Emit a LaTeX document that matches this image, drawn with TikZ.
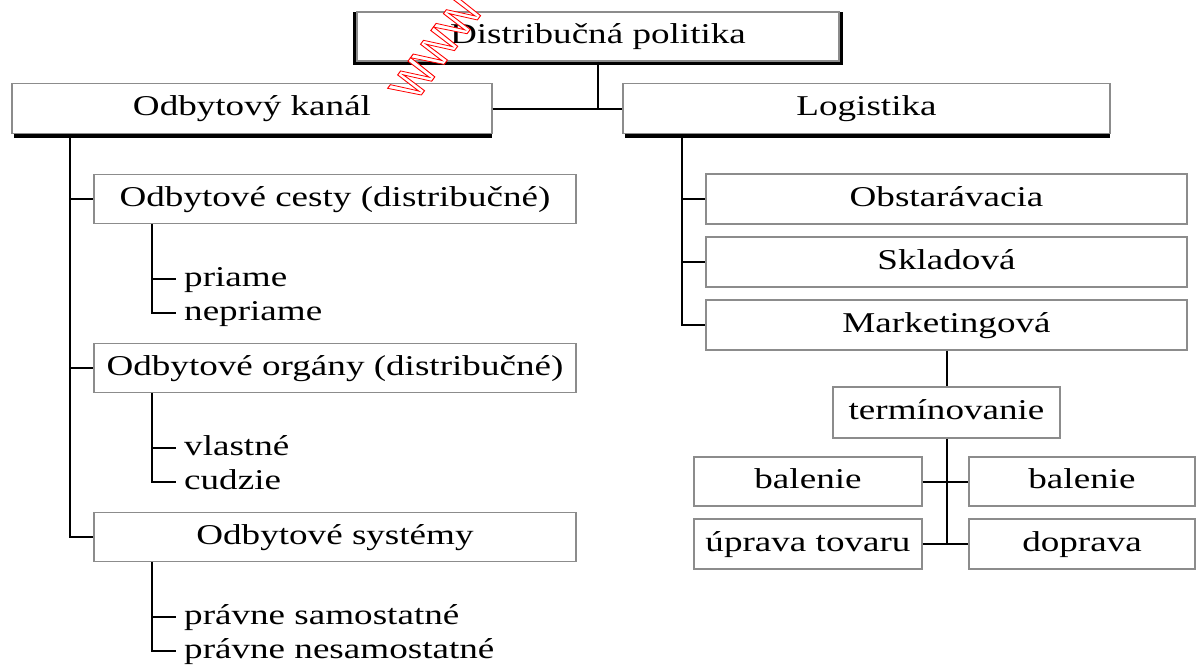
\documentclass[tikz,border=0pt]{standalone}
\usepackage{fontspec}
\setmainfont[FakeStretch=1.293]{Liberation Serif}
\newfontfamily\wmfont{Liberation Sans}
\definecolor{boxgray}{gray}{0.55}
\tikzset{
  box/.style={draw=boxgray, line width=1.4pt, fill=white, inner sep=0pt,
    font=\fontsize{28.7}{34}\selectfont, text height=19.5pt, text depth=5pt, align=center},
  item/.style={anchor=west, inner xsep=8pt, inner ysep=0pt,
    font=\fontsize{28.7}{34}\selectfont, text height=20pt, text depth=4pt},
  conn/.style={line width=2pt, black},
  shadowline/.style={line width=3.5pt, black},
  watermark/.style={rotate=60, transform shape, inner sep=0pt, text=red, text height=25pt, text depth=0pt,
    font=\wmfont\fontsize{49}{49}\selectfont},
}
\begin{document}
\begin{tikzpicture}[x=1pt,y=-1pt]
\useasboundingbox (0,0) rectangle (1196,664);
\fill[white] (0,0) rectangle (1196,664);

% top
\draw[shadowline] (355,12) -- (355,63) -- (841.5,63) -- (841.5,12);
\node[box, minimum width=482pt, minimum height=49pt] (top) at (598,36.5) {Distribučná politika};

% level 1
\draw[shadowline] (14,136) -- (492,136);
\draw[shadowline] (625,136) -- (1110,136);
\node[box, minimum width=480pt, minimum height=50pt] (ok) at (252,108.5) {Odbytový kanál};
\node[box, minimum width=487pt, minimum height=50pt] (lg) at (866.5,108.5) {Logistika};

\draw[conn] (top.south) -- (top.south |- ok.east);
\draw[conn] (ok.east) -- (lg.west);

% left branch
\node[box, minimum width=482pt, minimum height=49pt] (c1) at (335,199) {Odbytové cesty (distribučné)};
\node[box, minimum width=482pt, minimum height=49pt] (c2) at (335,368) {Odbytové orgány (distribučné)};
\node[box, minimum width=482pt, minimum height=49pt] (c3) at (335,537) {Odbytové systémy};

\coordinate (okt) at ([xshift=59pt]ok.south west);
\draw[conn] ([yshift=-4pt]okt) |- (c3.west);
\draw[conn] (okt |- c1.west) -- (c1.west);
\draw[conn] (okt |- c2.west) -- (c2.west);

\node[item] (i11) at (176,278.5) {priame};
\node[item] (i12) at (176,312.5) {nepriame};
\node[item] (i21) at (176,447.5) {vlastné};
\node[item] (i22) at (176,481.5) {cudzie};
\node[item] (i31) at (176,616.5) {právne samostatné};
\node[item] (i32) at (176,650.5) {právne nesamostatné};

\coordinate (c1t) at ([xshift=59pt]c1.south west);
\coordinate (c2t) at ([xshift=59pt]c2.south west);
\coordinate (c3t) at ([xshift=59pt]c3.south west);
\draw[conn] (c1t) |- (i12.west);
\draw[conn] (c1t |- i11.west) -- (i11.west);
\draw[conn] (c2t) |- (i22.west);
\draw[conn] (c2t |- i21.west) -- (i21.west);
\draw[conn] (c3t) |- (i32.west);
\draw[conn] (c3t |- i31.west) -- (i31.west);

% right branch
\node[box, minimum width=481pt, minimum height=50pt] (ob) at (946.5,199) {Obstarávacia};
\node[box, minimum width=481pt, minimum height=50pt] (sk) at (946.5,262) {Skladová};
\node[box, minimum width=481pt, minimum height=50pt] (mk) at (946.5,325) {Marketingová};

\coordinate (lgt) at ([xshift=60pt]lg.south west);
\draw[conn] ([yshift=-4pt]lgt) |- (mk.west);
\draw[conn] (lgt |- ob.west) -- (ob.west);
\draw[conn] (lgt |- sk.west) -- (sk.west);

\node[box, minimum width=227pt, minimum height=51pt] (ter) at (946.5,412.5) {termínovanie};
\draw[conn] (mk.south) -- (ter.north);

\node[box, minimum width=228pt, minimum height=49pt] (bl) at (808,481.5) {balenie};
\node[box, minimum width=226pt, minimum height=49pt] (br) at (1082,481.5) {balenie};
\node[box, minimum width=228pt, minimum height=50pt] (ul) at (808,544) {úprava tovaru};
\node[box, minimum width=226pt, minimum height=50pt] (dr) at (1082,544) {doprava};

\draw[conn] (ter.south) -- (ter.south |- ul.east);
\draw[conn] (bl.east) -- (br.west);
\draw[conn] (ul.east) -- (dr.west);

% watermark (outlined red letters, white inside, stretched like the rest)
\begin{scope}[shift={(437,49)}, xscale=1.293]
\node[watermark] (wm) at (0,0) {\special{pdf:literal direct 1 g 1 0 0 RG 2 Tr 0.8 w}www\special{pdf:literal direct 0 Tr}};
\end{scope}
\end{tikzpicture}
\end{document}
